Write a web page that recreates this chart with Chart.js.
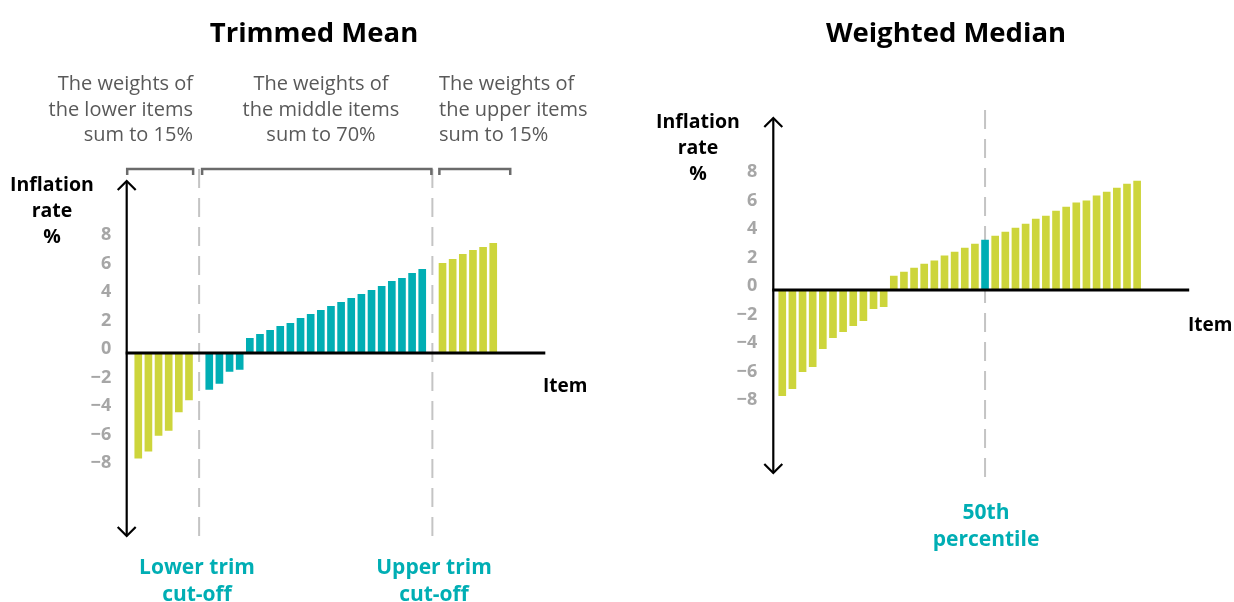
<!DOCTYPE html>
<html><head><meta charset="utf-8">
<script src="https://cdn.jsdelivr.net/npm/chart.js@4.4.1/dist/chart.umd.min.js"></script>
<style>
html,body{margin:0;padding:0;background:#fff;}
#wrap{position:relative;width:1234px;height:602px;overflow:hidden;font-family:"Open Sans",sans-serif;}
canvas{position:absolute;top:0;}
.t{position:absolute;white-space:nowrap;}
.title{font-weight:700;font-size:27.5px;color:#000;line-height:34px;text-align:center;width:400px;}
.note{font-size:20px;color:#595959;line-height:25.5px;}
.axlab{font-weight:700;font-size:19.5px;color:#000;line-height:26px;text-align:center;width:120px;}
.item{font-weight:700;font-size:19px;color:#000;line-height:26px;}
.cut{font-weight:700;font-size:21px;color:#00aeb4;line-height:27px;text-align:center;width:200px;}
</style></head>
<body>
<div id="wrap">
  <canvas id="left" width="617" height="602" style="left:0;width:617px;height:602px"></canvas>
  <canvas id="right" width="617" height="602" style="left:617px;width:617px;height:602px"></canvas>

  <div class="t title" style="left:114px;top:15px">Trimmed Mean</div>
  <div class="t title" style="left:746px;top:15px">Weighted Median</div>

  <div class="t note" style="left:0;width:193px;text-align:right;top:70px">The weights of<br>the lower items<br>sum to 15%</div>
  <div class="t note" style="left:171px;width:300px;text-align:center;top:70px">The weights of<br>the middle items<br>sum to 70%</div>
  <div class="t note" style="left:439px;top:70px">The weights of<br>the upper items<br>sum to 15%</div>

  <div class="t axlab" style="left:-8px;top:171px">Inflation<br>rate<br>%</div>
  <div class="t axlab" style="left:638px;top:108px">Inflation<br>rate<br>%</div>

  <div class="t item" style="left:543px;top:372px">Item</div>
  <div class="t item" style="left:1188px;top:311px">Item</div>

  <div class="t cut" style="left:97px;top:553px">Lower trim<br>cut-off</div>
  <div class="t cut" style="left:334px;top:553px">Upper trim<br>cut-off</div>
  <div class="t cut" style="left:886px;top:498px">50th<br>percentile</div>
</div>
<script>
// ---- data (inflation rate %, items sorted) ----
const lowerItems  = [-7.37, -6.88, -5.78, -5.43, -4.14, -3.30];
const middleItems = [-2.55, -2.13, -1.29, -1.15, 1.03, 1.31, 1.59, 1.87, 2.08, 2.43, 2.71, 2.99, 3.27, 3.56, 3.84, 4.12, 4.40, 4.68, 5.03, 5.24, 5.59, 5.87];
const upperItems  = [6.29, 6.57, 6.92, 7.20, 7.42, 7.70];
const medianItems = [-7.42, -6.92, -5.73, -5.38, -4.12, -3.35, -2.92, -2.50, -2.15, -1.31, -1.17, 0.98, 1.26, 1.54, 1.82, 2.04, 2.39, 2.67, 2.95, 3.23, 3.51, 3.79, 4.07, 4.35, 4.63, 4.98, 5.19, 5.54, 5.82, 6.11, 6.25, 6.60, 6.88, 7.16, 7.44, 7.65];
const medianIndex = 20;
const yTickValues = [-8, -6, -4, -2, 0, 2, 4, 6, 8];

const YELLOW = '#cdd53b', TEAL = '#00aeb4', NONE = 'rgba(0,0,0,0)';
Chart.defaults.font.family = '"Open Sans", sans-serif';

// left chart slots: lower | gap | middle | gap | upper
const leftData = [...lowerItems, null, ...middleItems, null, ...upperItems];
const leftColors = [...lowerItems.map(() => YELLOW), NONE, ...middleItems.map(() => TEAL), NONE, ...upperItems.map(() => YELLOW)];
const leftCuts = [lowerItems.length, lowerItems.length + 1 + middleItems.length];

const rightColors = medianItems.map((_, i) => i === medianIndex ? TEAL : YELLOW);

function decor(o) {
  return {
    id: 'decor',
    beforeDatasetsDraw(chart) {
      const { ctx, scales: { x, y } } = chart;
      const zy = y.getPixelForValue(0);
      ctx.save();
      ctx.strokeStyle = '#c4c4c4'; ctx.lineWidth = 2; ctx.setLineDash([19, 10]);
      o.dashIdx.forEach(i => {
        const px = x.getPixelForValue(i);
        ctx.beginPath(); ctx.moveTo(px, zy - o.dashUp); ctx.lineTo(px, zy + o.dashDown); ctx.stroke();
      });
      ctx.restore();
    },
    afterDatasetsDraw(chart) {
      const { ctx, chartArea: a, scales: { x, y } } = chart;
      const zy = y.getPixelForValue(0);
      const ax = a.left - o.axisGap;
      ctx.save();
      ctx.strokeStyle = '#000';
      ctx.lineWidth = 3;
      ctx.beginPath(); ctx.moveTo(ax - 1, zy); ctx.lineTo(a.right + 47, zy); ctx.stroke();
      ctx.lineWidth = 2.2;
      ctx.beginPath(); ctx.moveTo(ax, a.top + 1); ctx.lineTo(ax, a.bottom - 1); ctx.stroke();
      ctx.beginPath();
      ctx.moveTo(ax - 9, a.top + 10); ctx.lineTo(ax, a.top + 1); ctx.lineTo(ax + 9, a.top + 10);
      ctx.moveTo(ax - 9, a.bottom - 10); ctx.lineTo(ax, a.bottom - 1); ctx.lineTo(ax + 9, a.bottom - 10);
      ctx.stroke();
      if (o.brackets) {
        const g1 = x.getPixelForValue(o.dashIdx[0]);
        const g2 = x.getPixelForValue(o.dashIdx[1]);
        const last = x.getPixelForValue(leftData.length - 1);
        const by = zy - 184;
        const spans = [[ax + 0.5, g1 - 6], [g1 + 3, g2 - 1], [g2 + 7, last + 17]];
        ctx.strokeStyle = '#6b6b6b'; ctx.lineWidth = 2.5;
        spans.forEach(([x1, x2]) => {
          ctx.beginPath(); ctx.moveTo(x1, by + 6); ctx.lineTo(x1, by); ctx.lineTo(x2, by); ctx.lineTo(x2, by + 6); ctx.stroke();
        });
      }
      ctx.restore();
    }
  };
}

function makeChart(id, data, colors, cfg) {
  return new Chart(document.getElementById(id), {
    type: 'bar',
    data: {
      labels: data.map((_, i) => 'Item ' + (i + 1)),
      datasets: [{ data: data, backgroundColor: colors, barThickness: 7, borderWidth: 0 }]
    },
    options: {
      responsive: false, animation: false, devicePixelRatio: 1,
      layout: { padding: { left: 0, top: cfg.top, bottom: cfg.bottom, right: cfg.right } },
      plugins: { legend: { display: false }, tooltip: { enabled: false } },
      scales: {
        x: { display: false, offset: true },
        y: {
          min: -12.91, max: 12.14,
          afterFit(s) { s.width = cfg.yWidth; },
          afterBuildTicks(s) { s.ticks = yTickValues.map(v => ({ value: v })); },
          grid: { display: false, drawTicks: false },
          border: { display: false },
          ticks: {
            padding: cfg.tickPad, labelOffset: -4, color: '#a6a6a6',
            font: { weight: 'bold', size: 18 },
            callback: v => v < 0 ? '\u2212' + Math.abs(v) : String(v)
          }
        }
      }
    },
    plugins: [decor(cfg.decor)]
  });
}

makeChart('left', leftData, leftColors, {
  top: 180, bottom: 65, right: 118.7, yWidth: 133.2, tickPad: 22,
  decor: { dashIdx: leftCuts, dashUp: 184, dashDown: 190, axisGap: 6.5, brackets: true }
});
makeChart('right', medianItems, rightColors, {
  top: 117, bottom: 128, right: 91.8, yWidth: 160.2, tickPad: 20,
  decor: { dashIdx: [medianIndex], dashUp: 180, dashDown: 197, axisGap: 3.9, brackets: false }
});
</script>
</body></html>
